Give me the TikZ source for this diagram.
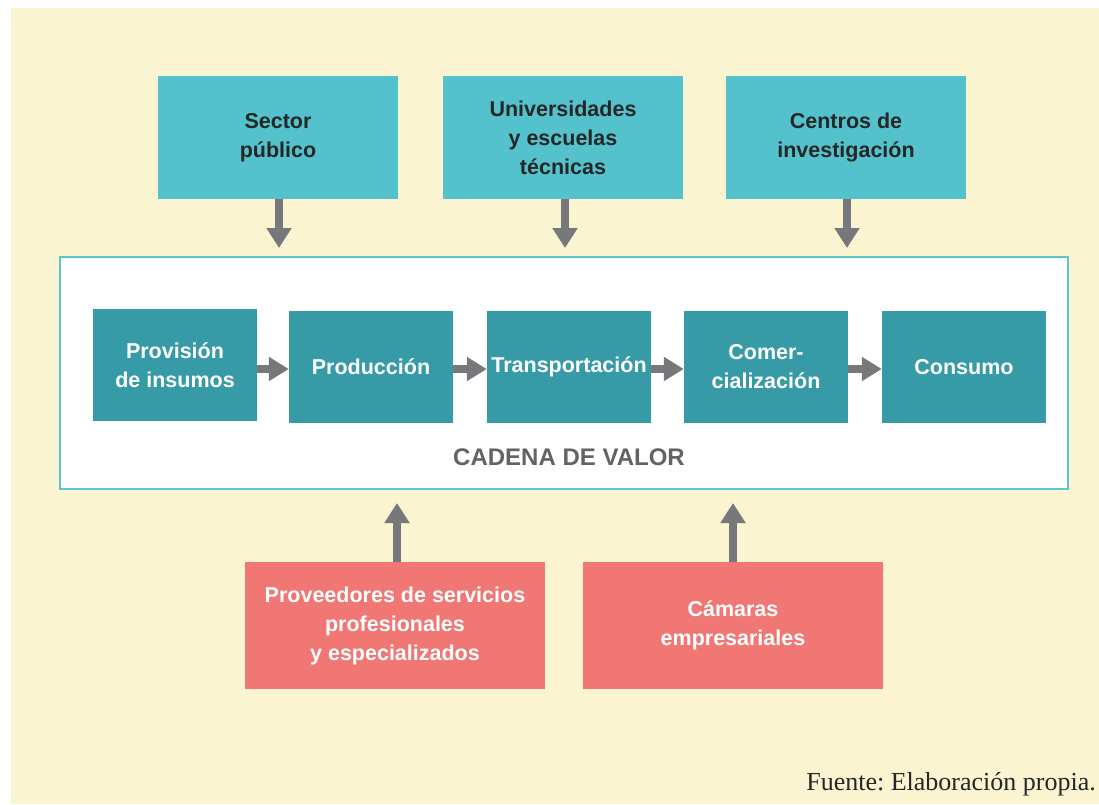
\documentclass[tikz,border=0pt]{standalone}
\usepackage{fontspec}
\setmainfont{Liberation Serif}
\newfontfamily\boxfont{Liberation Sans}
\usetikzlibrary{arrows.meta}
\definecolor{beige}{HTML}{FAF4D1}
\definecolor{topc}{HTML}{53C2CD}
\definecolor{valc}{HTML}{369BA7}
\definecolor{pinkc}{HTML}{F07774}
\definecolor{bordc}{HTML}{5BC6D0}
\definecolor{arrc}{HTML}{76787B}
\definecolor{darktxt}{HTML}{262626}
\definecolor{cadtxt}{HTML}{636363}
\tikzset{
  boxbase/.style={rectangle, draw=none, inner sep=0pt, align=center,
    font=\boxfont\bfseries\fontsize{21.5}{29}\selectfont},
  topbox/.style={boxbase, fill=topc, text=darktxt, minimum width=240pt, minimum height=123pt},
  valbox/.style={boxbase, fill=valc, text=white, minimum width=164pt, minimum height=112pt},
  pinkbox/.style={boxbase, fill=pinkc, text=white, minimum width=300pt, minimum height=127pt},
  arr/.style={draw=arrc, line width=8pt, -{Triangle[width=24pt,length=20pt]}},
  harr/.style={draw=arrc, line width=8pt, -{Triangle[width=23pt,length=20pt]}},
}
\begin{document}
\frenchspacing
\begin{tikzpicture}[x=1pt,y=-1pt]
\useasboundingbox (0,0) rectangle (1099,804);
\fill[white] (0,0) rectangle (1099,804);
\fill[beige] (11,8) rectangle (1099,804);
% cadena de valor frame
\node[rectangle, draw=bordc, line width=2pt, fill=white, minimum width=1008pt, minimum height=232pt, inner sep=0pt] (cv) at (564,373) {};
% top boxes
\node[topbox] (sp) at (278,137.5) {Sector\\público};
\node[topbox] (un) at (563,137.5) {Universidades\\y escuelas\\técnicas};
\node[topbox] (ci) at (846,137.5) {Centros de\\investigación};
% value chain boxes
\node[valbox] (pr) at (175,365) {Provisión\\de insumos};
\node[valbox] (po) at (371,367) {Producción};
\node[valbox] (tr) at (569,367) {Transportación};
\node[valbox] (co) at (766,367) {Comer-\\cialización};
\node[valbox] (cs) at (964,367) {Consumo};
\node[font=\boxfont\bfseries\fontsize{24}{28}\selectfont, text=cadtxt] (cad) at (569,457) {CADENA DE VALOR};
% bottom boxes
\node[pinkbox] (pv) at (395,625.5) {Proveedores de servicios\\profesionales\\y especializados};
\node[pinkbox] (cm) at (733,625.5) {Cámaras\\empresariales};
% arrows top
\draw[arr, shorten >=8pt] ([xshift=1pt]sp.south) -- ([xshift=1pt]sp.south |- cv.north);
\draw[arr, shorten >=8pt] ([xshift=2pt]un.south) -- ([xshift=2pt]un.south |- cv.north);
\draw[arr, shorten >=8pt] ([xshift=1pt]ci.south) -- ([xshift=1pt]ci.south |- cv.north);
% horizontal arrows
\draw[harr] (pr.east |- 0,369) -- (po.west |- 0,369);
\draw[harr] (po.east |- 0,369) -- (tr.west |- 0,369);
\draw[harr] (tr.east |- 0,369) -- (co.west |- 0,369);
\draw[harr] (co.east |- 0,369) -- (cs.west |- 0,369);
% arrows bottom
\draw[arr, shorten >=13pt] ([xshift=2pt]pv.north) -- ([xshift=2pt]pv.north |- cv.south);
\draw[arr, shorten >=13pt] (cm.north) -- (cm.north |- cv.south);
% source
\node[anchor=base east, inner sep=0pt, font=\fontsize{26}{30}\selectfont, text=black!85] (src) at (1096,790) {Fuente: Elaboración propia.};
\end{tikzpicture}
\end{document}
